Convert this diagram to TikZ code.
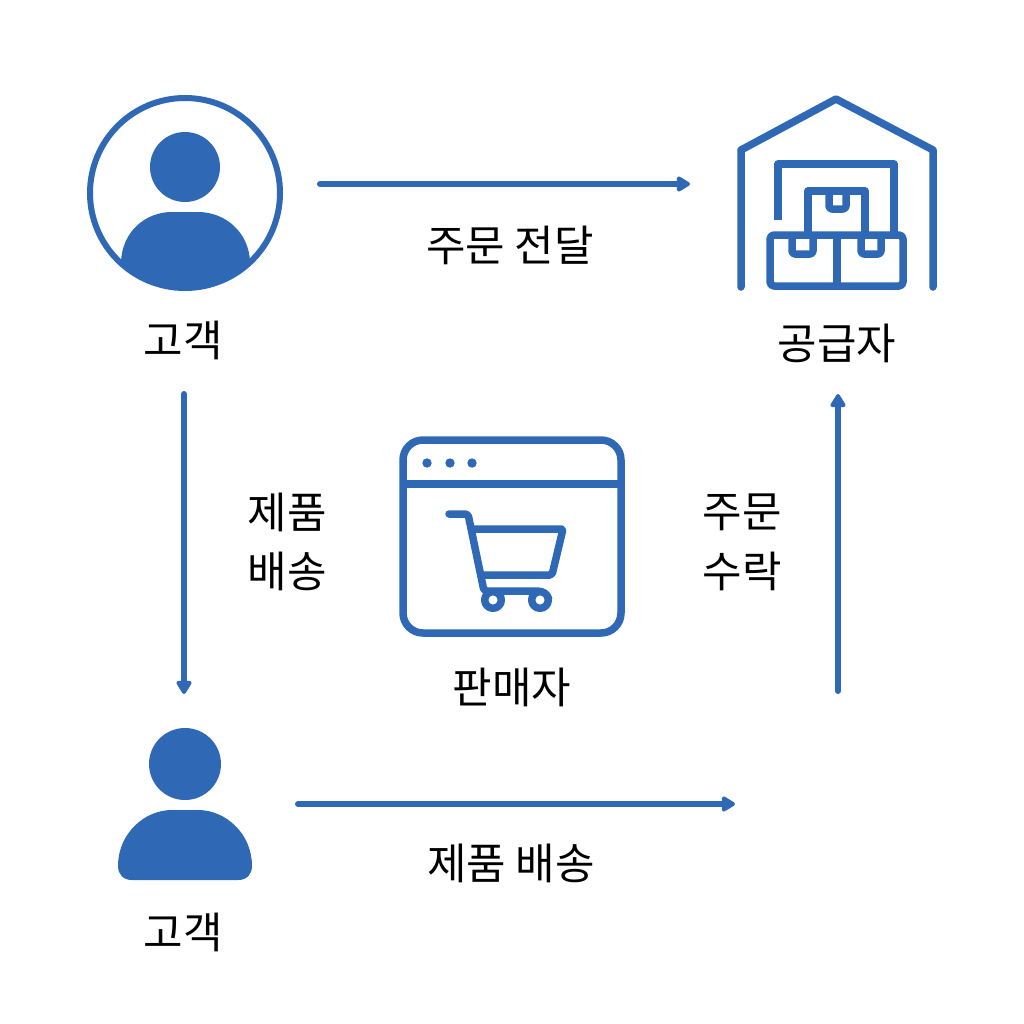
\documentclass[tikz,border=0pt]{standalone}
\usepackage{fontspec}
\setmainfont{Noto Sans CJK KR}
\usetikzlibrary{arrows.meta}
\definecolor{flowBlue}{RGB}{47, 105, 181}
\tikzset{
    flowArrow/.style={flowBlue, line width=0.06cm, line cap=round,
        -{Triangle[length=0.15cm, width=0.17cm, round]}},
    iconLine/.style={flowBlue, line width=0.075cm, line join=round},
    iconFill/.style={fill=flowBlue, draw=none},
    flowLabel/.style={black, font=\fontsize{12.2}{17}\selectfont, align=center, inner sep=0pt},
}
\begin{document}
\begin{tikzpicture}[x=0.01cm, y=-0.01cm]
    \useasboundingbox (0,0) rectangle (1024,1024);
    \fill[white] (0,0) rectangle (1024,1024);

    % Customer in circle
    \begin{scope}
        \clip (185,193) circle (95);
        \fill[iconFill] (121,300) -- (121,262) .. controls (122,232) and (145,212) .. (172,212)
            -- (198,212) .. controls (225,212) and (249,232) .. (250,262) -- (250,300) -- cycle;
    \end{scope}
    \draw[flowBlue, line width=0.06cm] (185,193) circle (95);
    \fill[iconFill] (185,167) circle (35);

    % Customer
    \fill[iconFill] (185,764) circle (36);
    \fill[iconFill] (132,880) -- (238,880) .. controls (247,880) and (252,874) .. (252,866)
        .. controls (252,834) and (226,810) .. (198,810) -- (172,810)
        .. controls (144,810) and (118,834) .. (118,866)
        .. controls (118,874) and (123,880) .. (132,880) -- cycle;

    % Warehouse
    \draw[iconLine, line cap=round] (741,287) -- (741,150) -- (836,99) -- (933,150) -- (933,287);
    \draw[iconLine] (778,220) -- (778,164) -- (894,164) -- (894,235);
    \draw[iconLine] (808,235) -- (808,191) -- (865,191) -- (865,235);
    \draw[iconLine, rounded corners=0.03cm] (829,191) -- (829,209) -- (846,209) -- (846,191);
    \draw[iconLine, rounded corners=0.04cm] (770,235) rectangle (903,286);
    \draw[iconLine] (837,235) -- (837,286);
    \draw[iconLine, rounded corners=0.03cm] (792,235) -- (792,254) -- (813,254) -- (813,235);
    \draw[iconLine, rounded corners=0.03cm] (861,235) -- (861,254) -- (881,254) -- (881,235);

    % Shop window
    \draw[iconLine, rounded corners=0.2cm] (403,440) rectangle (621,633);
    \draw[iconLine] (403,484) -- (621,484);
    \foreach \dotx in {427,450,472}
        \fill[iconFill] (\dotx,463) circle (4.7);

    % Cart
    \draw[iconLine, line cap=round, rounded corners=0.03cm]
        (449,514) -- (468,514) -- (484,591) -- (537,591);
    \draw[iconLine, rounded corners=0.02cm]
        (472,529) -- (563,529) -- (552,575) -- (482,575);
    \draw[iconLine] (537,591) .. controls (543,591) and (548,595) .. (549,600);
    \draw[iconLine, fill=white] (493,600) circle (8.3);
    \draw[iconLine, fill=white] (540,600) circle (8.3);

    % Labels
    \node[flowLabel] (custTop) at (183,340) {고객};
    \node[flowLabel] (supplier) at (837,343) {공급자};
    \node[flowLabel] (relay) at (510,245) {주문 전달};
    \node[flowLabel] (shipLeft) at (287,542) {제품\\배송};
    \node[flowLabel] (accept) at (742,542) {주문\\수락};
    \node[flowLabel] (seller) at (512,687) {판매자};
    \node[flowLabel] (custBottom) at (183,932) {고객};
    \node[flowLabel] (shipBottom) at (511,863) {제품 배송};

    % Flow ends
    \coordinate (relayStart) at (320,184);
    \coordinate (relayEnd) at (690,184);
    \coordinate (shipStart) at (184,394);
    \coordinate (shipEnd) at (184,694);
    \coordinate (bottomStart) at (298,804);
    \coordinate (bottomEnd) at (735,804);
    \coordinate (acceptStart) at (838,691);
    \coordinate (acceptEnd) at (838,394);

    % Flows
    \draw[flowArrow] (relayStart) -- (relayEnd);
    \draw[flowArrow] (shipStart) -- (shipEnd);
    \draw[flowArrow] (bottomStart) -- (bottomEnd);
    \draw[flowArrow] (acceptStart) -- (acceptEnd);

\end{tikzpicture}
\end{document}
